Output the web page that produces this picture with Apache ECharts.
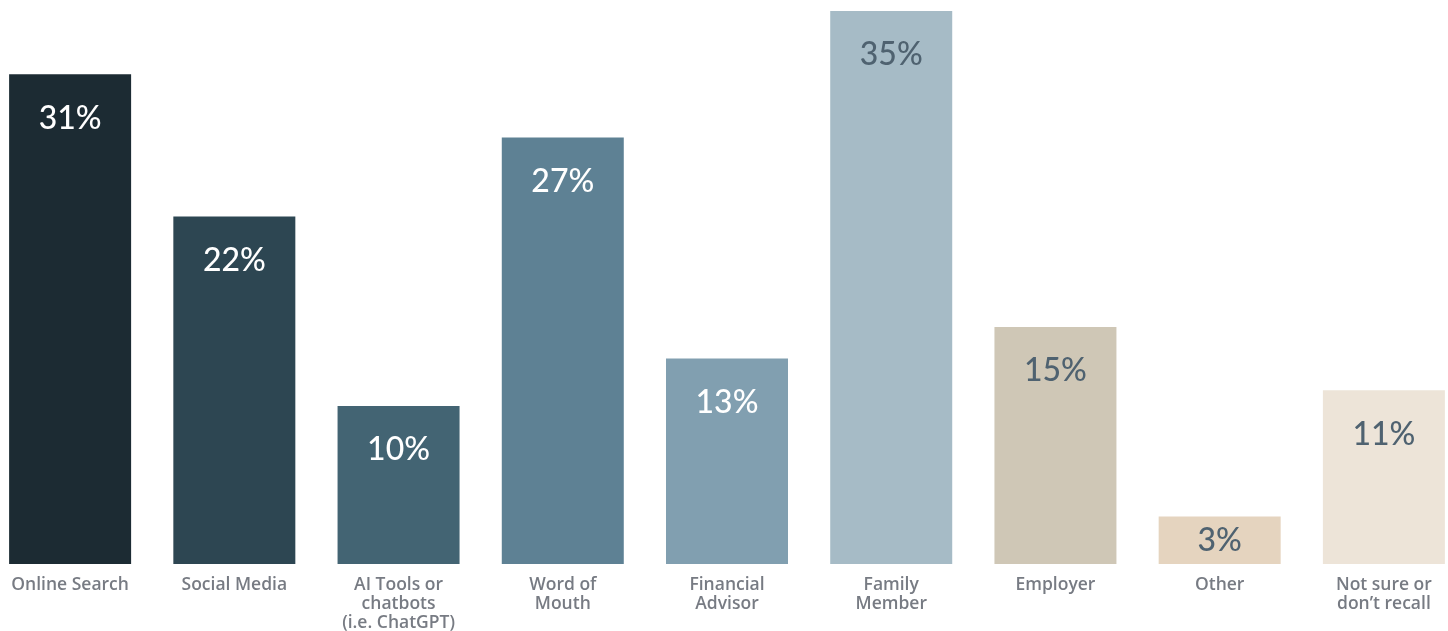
<!DOCTYPE html>
<html>
<head>
<meta charset="utf-8">
<script src="https://cdn.jsdelivr.net/npm/echarts@6/dist/echarts.min.js"></script>
<style>
  html, body { margin: 0; padding: 0; background: #ffffff; overflow: hidden; }
  #chart { position: absolute; left: -12px; top: 0; width: 1478px; height: 631px; }
</style>
</head>
<body>
<div id="chart"></div>
<script>
// Where respondents first heard about it (share of respondents, %)
const categories = [
  'Online Search',
  'Social Media',
  'AI Tools or\nchatbots\n(i.e. ChatGPT)',
  'Word of\nMouth',
  'Financial\nAdvisor',
  'Family\nMember',
  'Employer',
  'Other',
  'Not sure or\ndon\u2019t recall'
];
const values = [31, 22, 10, 27, 13, 35, 15, 3, 11];

const barColors = [
  '#1c2b33', '#2d4652', '#436473', '#5e8194', '#819fb0',
  '#a6bbc6', '#cfc7b6', '#e5d4bf', '#ede4d8'
];
const labelColors = [
  '#ffffff', '#ffffff', '#ffffff', '#ffffff', '#ffffff',
  '#4f6270', '#4f6270', '#4f6270', '#4f6270'
];

const chart = echarts.init(document.getElementById('chart'));
chart.setOption({
  animation: false,
  grid: {
    left: 0, right: 0, top: 11, bottom: 67,
    containLabel: false,
    outerBoundsMode: 'none'
  },
  xAxis: {
    type: 'category',
    data: categories,
    axisLine: { show: false },
    axisTick: { show: false },
    axisLabel: {
      interval: 0,
      margin: 12,
      color: '#777b83',
      fontFamily: 'Open Sans',
      fontWeight: 600,
      fontSize: 17.5,
      lineHeight: 19
    }
  },
  yAxis: {
    type: 'value',
    min: 0,
    max: 35,
    show: false,
    splitLine: { show: false }
  },
  series: [{
    type: 'bar',
    barWidth: 122,
    data: values.map((v, i) => ({
      value: v,
      itemStyle: { color: barColors[i] },
      // short bars keep their label centred in the bar
      label: v < 6
        ? { color: labelColors[i], position: 'inside' }
        : { color: labelColors[i] }
    })),
    label: {
      show: true,
      position: 'insideTop',
      distance: 28,
      fontFamily: 'Lato',
      fontWeight: 500,
      fontSize: 32,
      formatter: '{c}%'
    }
  }]
});
</script>
</body>
</html>
